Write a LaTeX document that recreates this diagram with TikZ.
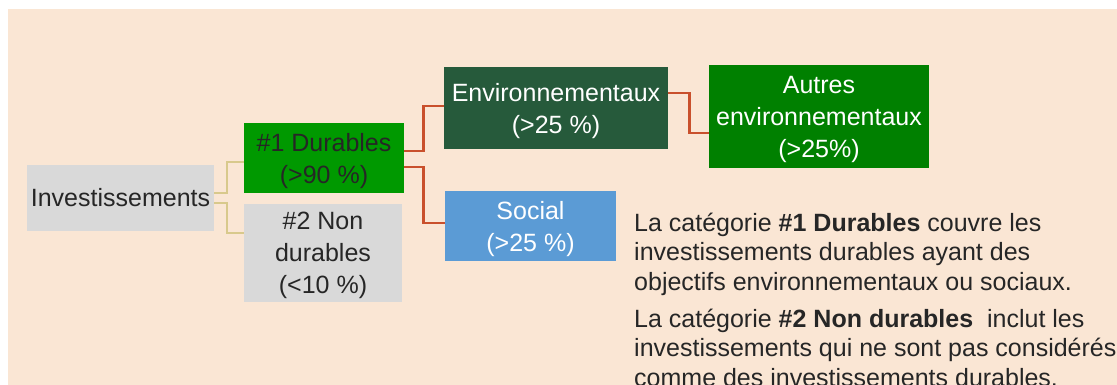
\documentclass[tikz,border=0pt]{standalone}
\usepackage{fontspec}
\setmainfont{Liberation Sans}
\usetikzlibrary{positioning,calc}
\definecolor{pagefill}{HTML}{FAE6D4}
\definecolor{greyfill}{HTML}{D9D9D9}
\definecolor{durfill}{HTML}{009900}
\definecolor{envfill}{HTML}{265A3B}
\definecolor{othfill}{HTML}{008000}
\definecolor{socfill}{HTML}{5B9BD5}
\definecolor{redline}{HTML}{C9502C}
\definecolor{tanline}{HTML}{D8C98C}
\definecolor{inkdark}{HTML}{262626}

\begin{document}
\begin{tikzpicture}[
  x=1pt, y=-1pt,
  font=\fontsize{25}{32}\selectfont,
  cat/.style  = {inner sep=0pt, align=center, text=inkdark},
  low/.style  = {text depth=-3.5pt},
  grey/.style = {cat, fill=greyfill},
  dur/.style  = {cat, low, fill=durfill},
  env/.style  = {cat, low, fill=envfill, text=white},
  oth/.style  = {cat, low, fill=othfill, text=white},
  soc/.style  = {cat, low, fill=socfill, text=white},
  tln/.style  = {draw=tanline, line width=2.4pt},
  rln/.style  = {draw=redline, line width=2.6pt},
  note/.style = {inner sep=0pt, align=left, text=inkdark,
                 font=\fontsize{25}{29.5}\selectfont},
]

% --- page and frame -------------------------------------------------------------------------------
\useasboundingbox (0,0) rectangle (1117,385);
\clip (0,0) rectangle (1117,385);
\fill[pagefill] (8,9) rectangle (1117,385);

% --- the tree -------------------------------------------------------------------------------------
\node[grey, minimum width=187pt, minimum height=66pt]       (inv)    at (120.5,198) {Investissements};
\node[dur,  minimum width=160pt, minimum height=70pt]       (durab)  at (324,158)   {\#1 Durables\\(>90 \%)};
\node[grey, low, minimum width=158pt, minimum height=98pt]  (nondur) at (323,253)   {\#2 Non\\durables\\(<10 \%)};
\node[env,  minimum width=224pt, minimum height=82pt]       (envir)  at (556,108)   {Environnementaux\\(>25 \%)};
\node[oth,  minimum width=220pt, minimum height=103pt]      (autres) at (819,116.5) {Autres\\environnementaux\\(>25\%)};
\node[soc,  minimum width=171pt, minimum height=70pt]       (social) at (530.5,226) {Social\\(>25 \%)};

% --- elbow links ----------------------------------------------------------------------------------
\draw[tln] ([yshift=5pt]inv.east)  -- ++(13,0) |- ([yshift=-4pt]durab.west);
\draw[tln] ([yshift=-5pt]inv.east) -- ++(13,0) |- ([yshift=20pt]nondur.west);

\draw[rln] ([yshift=7pt]durab.east)  -- ++(19,0) |- ([yshift=2pt]envir.west);
\draw[rln] ([yshift=-9pt]durab.east) -- ++(19,0) |- ([yshift=3pt]social.west);
\draw[rln] ([yshift=15pt]envir.east) -- ++(21,0) |- ([yshift=-16.5pt]autres.west);

% --- the two notes (anchored on their last line) --------------------------------------------------
\node[note, anchor=base west] (note1) at (634,290)
  {La catégorie \textbf{\#1 Durables} couvre les\\
   investissements durables ayant des\\
   objectifs environnementaux ou sociaux.};
\node[note, anchor=base west] (note2) at (634,386)
  {La catégorie \textbf{\#2 Non durables}\ \ inclut les\\
   investissements qui ne sont pas considérés\\
   comme des investissements durables.};

\end{tikzpicture}
\end{document}
